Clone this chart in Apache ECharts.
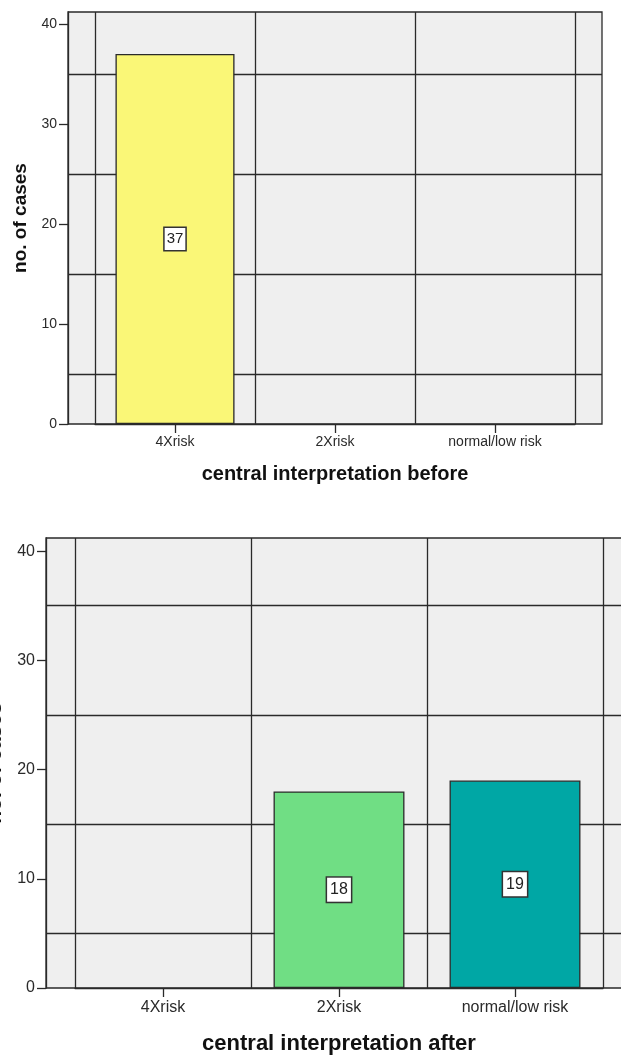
<!DOCTYPE html>
<html>
<head>
<meta charset="utf-8">
<script src="https://cdn.jsdelivr.net/npm/echarts@6/dist/echarts.min.js"></script>
<style>
  html, body { margin: 0; padding: 0; background: #ffffff; }
  #chart { width: 621px; height: 1055px; }
</style>
</head>
<body>
<div id="chart"></div>
<script>
// ---- data ----
const categories = ['4Xrisk', '2Xrisk', 'normal/low risk'];
const beforeCounts = [37, 0, 0];
const afterCounts = [0, 18, 19];
const yTickValues = [0, 10, 20, 30, 40];
const yMax = 41.2;
const yAxisTitle = 'no. of cases';
const beforeTitle = 'central interpretation before';
const afterTitle = 'central interpretation after';

// ---- styles ----
const FONT = "'Liberation Sans', Arial, sans-serif";
const LINE = '#2a2a2a';
const LW = 1.3;
const beforeColors = ['#FAF777', '#FAF777', '#FAF777'];
const afterColors = ['#70DE84', '#70DE84', '#00A7A5'];

function barData(values, colors) {
  return values.map((v, i) => v > 0
    ? { value: v, itemStyle: { color: colors[i] } }
    : { value: v, itemStyle: { borderWidth: 0, color: 'transparent' }, label: { show: false } });
}

function frameY(gridIndex, fs, nameFs, nameGap) {
  return {
    gridIndex: gridIndex, type: 'value', min: 0, max: yMax, interval: 10,
    name: yAxisTitle, nameLocation: 'middle', nameRotate: 90, nameGap: nameGap,
    nameTextStyle: { fontFamily: FONT, fontWeight: 'bold', fontSize: nameFs, color: '#111' },
    axisLine: { show: true, lineStyle: { color: LINE, width: LW } },
    axisTick: { show: true, length: 9, customValues: yTickValues, lineStyle: { color: LINE, width: LW } },
    axisLabel: { customValues: yTickValues, margin: 11, fontFamily: FONT, fontSize: fs, color: '#2a2a2a' },
    splitLine: { show: false },
    minorTick: { show: false, splitNumber: 2 },
    minorSplitLine: { show: true, lineStyle: { color: LINE, width: LW } }
  };
}
function hiddenY(gridIndex) {
  return { gridIndex: gridIndex, type: 'value', min: 0, max: yMax, show: false, splitLine: { show: false } };
}
function hiddenX(gridIndex) {
  return { gridIndex: gridIndex, type: 'value', min: 0, max: 1, show: false, splitLine: { show: false } };
}
function catX(gridIndex, title, fs, nameFs, nameGap, margin) {
  return {
    gridIndex: gridIndex, type: 'category', data: categories, boundaryGap: true,
    name: title, nameLocation: 'middle', nameGap: nameGap,
    nameTextStyle: { fontFamily: FONT, fontWeight: 'bold', fontSize: nameFs, color: '#111' },
    axisLine: { show: true, lineStyle: { color: LINE, width: LW } },
    axisTick: { show: true, alignWithLabel: true, length: 9, lineStyle: { color: LINE, width: LW } },
    axisLabel: { margin: margin, fontFamily: FONT, fontSize: fs, color: '#2a2a2a' },
    splitLine: { show: true, lineStyle: { color: LINE, width: LW } }
  };
}
function barSeries(xi, yi, values, colors, fs, pad) {
  return {
    type: 'bar', xAxisIndex: xi, yAxisIndex: yi, barWidth: '74.4%', z: 5,
    data: barData(values, colors),
    itemStyle: { borderColor: LINE, borderWidth: LW },
    label: {
      show: true, position: 'inside', fontFamily: FONT, fontSize: fs, color: '#222',
      backgroundColor: '#ffffff', borderColor: '#333', borderWidth: 1.5, padding: pad
    }
  };
}

const gridBase = { outerBoundsMode: 'none', containLabel: false };
const chart = echarts.init(document.getElementById('chart'), null, { renderer: 'canvas' });
chart.setOption({
  animation: false,
  backgroundColor: '#ffffff',
  grid: [
    Object.assign({ left: 68, top: 12, width: 534, height: 412, show: true, backgroundColor: '#efefef', borderColor: LINE, borderWidth: LW }, gridBase),
    Object.assign({ left: 95, top: 12, width: 480, height: 412 }, gridBase),
    Object.assign({ left: 46, top: 538, width: 586, height: 450, show: true, backgroundColor: '#efefef', borderColor: LINE, borderWidth: LW }, gridBase),
    Object.assign({ left: 75, top: 538, width: 528, height: 450 }, gridBase)
  ],
  xAxis: [
    hiddenX(0),
    catX(1, beforeTitle, 14, 20, 40, 11),
    hiddenX(2),
    catX(3, afterTitle, 16, 22, 45, 12)
  ],
  yAxis: [
    frameY(0, 14, 19, 37),
    hiddenY(1),
    frameY(2, 16, 21, 40),
    hiddenY(3)
  ],
  series: [
    barSeries(1, 1, beforeCounts, beforeColors, 15, [5, 2, 2, 2]),
    barSeries(3, 3, afterCounts, afterColors, 16, [5, 3, 3, 3])
  ]
});
</script>
</body>
</html>
